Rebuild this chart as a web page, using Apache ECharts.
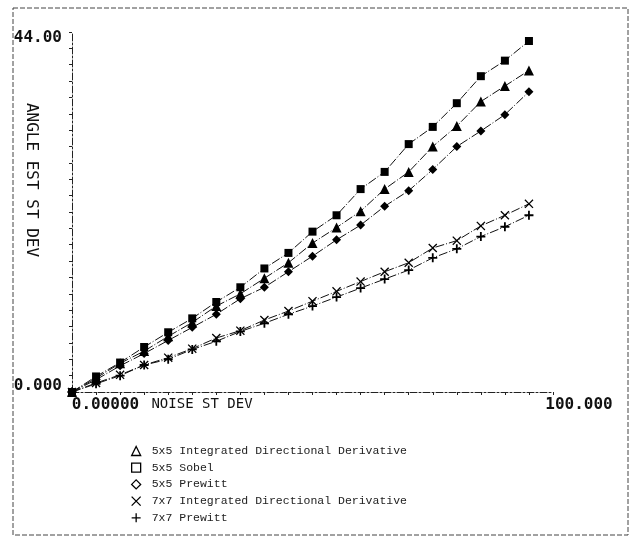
<!DOCTYPE html>
<html>
<head>
<meta charset="utf-8">
<script src="https://cdn.jsdelivr.net/npm/echarts@6/dist/echarts.min.js"></script>
<style>
html,body{margin:0;padding:0;background:#fff;}
#chart{width:632px;height:537px;}
</style>
</head>
<body>
<div id="chart"></div>
<script>
// ---- data ----
var noise = [0,5,10,15,20,25,30,35,40,45,50,55,60,65,70,75,80,85,90,95];
var idd5     = [0,1.7,3.5,5.0,6.8,8.5,10.5,12.0,13.9,15.8,18.2,20.1,22.1,24.8,26.9,30.0,32.5,35.5,37.4,39.3];
var sobel5   = [0,1.9,3.6,5.5,7.3,9.0,11.0,12.8,15.1,17.0,19.6,21.6,24.8,26.9,30.3,32.4,35.3,38.6,40.5,42.9];
var prewitt5 = [0,1.5,3.2,4.7,6.3,7.9,9.5,11.4,12.8,14.7,16.6,18.6,20.4,22.7,24.6,27.2,30.0,31.9,33.9,36.7];
var idd7     = [0,1.1,2.1,3.3,4.2,5.3,6.6,7.5,8.8,9.9,11.1,12.3,13.5,14.7,15.8,17.6,18.5,20.3,21.6,23.0];
var prewitt7 = [0,1.0,2.0,3.3,4.0,5.2,6.2,7.4,8.4,9.5,10.5,11.6,12.7,13.8,14.9,16.4,17.5,19.0,20.2,21.6];
var seriesNames = [
  '5x5 Integrated Directional Derivative',
  '5x5 Sobel',
  '5x5 Prewitt',
  '7x7 Integrated Directional Derivative',
  '7x7 Prewitt'
];
var xTitle = 'NOISE ST DEV';
var yTitle = 'ANGLE EST ST DEV';
var yMaxLabel = '44.00', yMinLabel = '0.000';
var xMinLabel = '0.00000', xMaxLabel = '100.000';

// ---- styling ----
var X_PATH = 'path://M1,0L5,4L9,0L10,1L6,5L10,9L9,10L5,6L1,10L0,9L4,5L0,1Z';
var PLUS_PATH = 'path://M4,0H6V4H10V6H6V10H4V6H0V4H4Z';
var X_ICON = 'path://M0,0L10,10M10,0L0,10';
var PLUS_ICON = 'path://M5,0L5,10M0,5L10,5';
var symbols = ['triangle','rect','diamond',X_PATH,PLUS_PATH];
var symSizes = [10,8,9,9,9];
var legendIcons = ['triangle','rect','diamond',X_ICON,PLUS_ICON];
var valuesList = [idd5, sobel5, prewitt5, idd7, prewitt7];
var numFont = {fontFamily:'DejaVu Sans Mono', fontWeight:'bold', fontSize:16, color:'#111'};

function pairs(v){ return noise.map(function(x,i){ return [x, v[i]]; }); }

var series = valuesList.map(function(v,i){
  return {
    name: seriesNames[i],
    type: 'line',
    data: pairs(v),
    symbol: symbols[i],
    symbolSize: symSizes[i],
    showAllSymbol: true,
    itemStyle: {color:'#000'},
    lineStyle: {color:'#111', width:1, type:[9,2,1,2]},
    animation: false
  };
});

var chart = echarts.init(document.getElementById('chart'), null, {renderer:'canvas'});
chart.setOption({
  backgroundColor:'#fff',
  animation:false,
  grid:{left:72, right:79, top:32, bottom:145, containLabel:false},
  xAxis:{
    type:'value', min:0, max:100, interval:5,
    axisLine:{show:true, lineStyle:{color:'#222', width:1, type:[7,2,2,2]}},
    axisTick:{show:true, length:3, lineStyle:{color:'#222'}},
    splitLine:{show:false},
    axisLabel:{
      show:true, margin:5, align:'center',
      formatter:function(v){ if(v===0) return '{a|'+xMinLabel+'}'; if(v===100) return '{c|'+xMaxLabel+'}'; return ''; },
      rich:{
        a:Object.assign({padding:[0,0,0,67]}, numFont),
        c:Object.assign({padding:[0,0,0,52]}, numFont)
      }
    }
  },
  yAxis:{
    type:'value', min:0, max:44, interval:2,
    axisLine:{show:true, lineStyle:{color:'#222', width:1, type:[7,2,2,2]}},
    axisTick:{show:true, length:3, lineStyle:{color:'#222'}},
    splitLine:{show:false},
    axisLabel:{
      show:true, margin:10,
      formatter:function(v){ if(v===44) return '{t|'+yMaxLabel+'}'; if(v===0) return '{b|'+yMinLabel+'}'; return ''; },
      rich:{
        t:Object.assign({padding:[12,0,0,0]}, numFont),
        b:Object.assign({padding:[0,0,12,0]}, numFont)
      }
    }
  },
  legend:{
    orient:'vertical', left:126, top:439,
    itemWidth:9, itemHeight:9, itemGap:2.7,
    data: seriesNames.map(function(n,i){ return {name:n, icon:legendIcons[i]}; }),
    itemStyle:{color:'rgba(0,0,0,0)', borderColor:'#000', borderWidth:1.3},
    formatter:function(n){ return '{a|'+n+'}'; },
    textStyle:{
      fontFamily:'Liberation Mono', fontSize:11.5, color:'#222', lineHeight:14,
      rich:{a:{fontFamily:'Liberation Mono', fontSize:11.5, color:'#222', lineHeight:14, padding:[0,0,0,6]}}
    },
    selectedMode:false
  },
  graphic:[
    {type:'rect', shape:{x:13, y:8, width:615, height:527}, silent:true,
     style:{fill:'none', stroke:'#444', lineWidth:1, lineDash:[5,2]}},
    {type:'text', x:202, y:404, silent:true,
     style:{text:xTitle, textAlign:'center', textVerticalAlign:'middle',
            font:'14px "DejaVu Sans Mono"', fill:'#111'}},
    {type:'text', x:31, y:180, rotation:-Math.PI/2, silent:true,
     style:{text:yTitle, textAlign:'center', textVerticalAlign:'middle',
            font:'16px "DejaVu Sans Mono"', fill:'#111'}}
  ],
  series: series
});
</script>
</body>
</html>
